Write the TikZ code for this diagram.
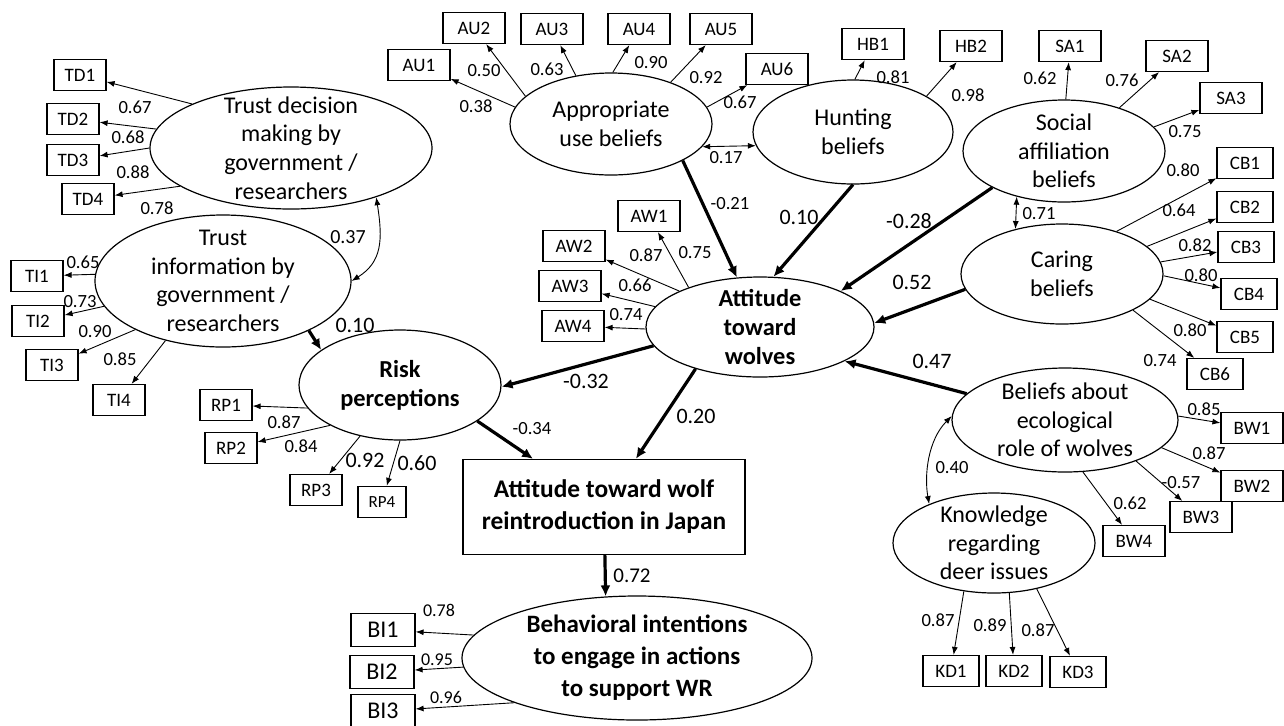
\documentclass[tikz,border=0pt]{standalone}
\usepackage{fontspec}
\setmainfont{Carlito}
\usetikzlibrary{shapes.geometric,arrows.meta}

\begin{document}
\begin{tikzpicture}[x=0.5pt,y=-0.5pt,
  lat/.style={draw,ellipse,line width=0.6pt,inner sep=0pt},
  ltxt/.style={align=center,font=\fontsize{12}{14.3}\selectfont},
  btxt/.style={align=center,font=\bfseries\fontsize{12.2}{14.5}\selectfont},
  ind/.style={draw,line width=0.6pt,inner sep=0pt,minimum width=#1,minimum height=15.5pt,font=\fontsize{9.5}{11}\selectfont},
  ind/.default=30pt,
  ld/.style={line width=0.45pt,-{Latex[length=4pt,width=3pt]}},
  cov/.style={line width=0.45pt,{Latex[length=4pt,width=3pt]}-{Latex[length=4pt,width=3pt]}},
  eff/.style={line width=1.6pt,-{Latex[length=5.5pt,width=5pt]}},
  coef/.style={inner sep=0pt,font=\fontsize{9.3}{11}\selectfont},
  bcoef/.style={inner sep=0pt,font=\fontsize{11}{13}\selectfont}]

\useasboundingbox (0,0) rectangle (1284,725);

% latent variables
\node[lat,minimum width=141pt,minimum height=61pt,label={[ltxt]center:Trust decision\\making by\\government /\\researchers}] (TD) at (291,148) {};
\node[lat,minimum width=128pt,minimum height=66pt,label={[ltxt]center:Trust\\information by\\government /\\researchers}] (TI) at (223,281) {};
\node[lat,minimum width=101pt,minimum height=51pt,label={[ltxt]center:Appropriate\\use beliefs}] (AU) at (611,124) {};
\node[lat,minimum width=100pt,minimum height=52pt,label={[ltxt]center:Hunting\\beliefs}] (HB) at (853,132) {};
\node[lat,minimum width=101pt,minimum height=51pt,label={[ltxt]center:Social\\affiliation\\beliefs}] (SA) at (1064,151) {};
\node[lat,minimum width=101pt,minimum height=50pt,label={[ltxt]center:Caring\\beliefs}] (CB) at (1062,274) {};
\node[lat,minimum width=114pt,minimum height=50pt,label={[btxt]center:Attitude\\toward\\wolves}] (AW) at (760,327) {};
\node[lat,minimum width=101pt,minimum height=55pt,label={[btxt]center:Risk\\perceptions}] (RP) at (400,385) {};
\node[lat,minimum width=113pt,minimum height=52pt,label={[ltxt]center:Beliefs about\\ecological\\role of wolves}] (BW) at (1065,420) {};
\node[lat,minimum width=101pt,minimum height=50pt,label={[ltxt]center:Knowledge\\regarding\\deer issues}] (KD) at (994,543) {};
\node[lat,minimum width=175pt,minimum height=62pt,label={[align=center,font=\bfseries\fontsize{12.5}{16}\selectfont]center:Behavioral intentions\\to engage in actions\\to support WR}] (BI) at (637,658) {};
\node[draw,line width=0.6pt,minimum width=141pt,minimum height=47.5pt,align=center,font=\bfseries\fontsize{12.7}{16}\selectfont] (AWR) at (604,507) {Attitude toward wolf\\reintroduction in Japan};

% indicators
\foreach \n/\x/\y in {TD1/80/75, TD2/73/119, TD3/73/160, TD4/88/199, TI1/37/276, TI2/38/321, TI3/52/365, TI4/119/400, RP1/226/405, RP2/231/448, RP3/316/490}
  \node[ind=26pt] (\n) at (\x,\y) {\n};
\node[ind=24pt,font=\fontsize{8.5}{10}\selectfont] (RP4) at (382,502) {RP4};
\foreach \n/\x/\y in {AU1/419/65, AU2/474/28, AU3/552/29, AU4/639/29, AU5/721/29, AU6/777/69, HB1/873/44, HB2/971/46, SA1/1070/46, SA2/1177/56, SA3/1231/98, AW1/649/216, AW2/574/246, AW3/570/286, AW4/573/326, BW1/1252/428, BW2/1252/486, BW3/1201/517, BW4/1134/541}
  \node[ind=31pt] (\n) at (\x,\y) {\n};
\foreach \n/\x/\y in {CB1/1245/163, CB2/1245/207, CB3/1246/247, CB4/1249/294, CB5/1245/337, CB6/1215/374, KD1/951/671, KD2/1014/671, KD3/1078/672}
  \node[ind=28pt] (\n) at (\x,\y) {\n};
\foreach \n/\x/\y in {BI1/383/630, BI2/382/672, BI3/383/711}
  \node[ind=32pt,minimum height=16.5pt,font=\fontsize{12}{14}\selectfont] (\n) at (\x,\y) {\n};

% loadings
\foreach \a/\n/\v/\x/\y in {156/TD1/0.67/135/107, 172/TD2/0.68/128/137, 180/TD3/0.88/133/172, 199/TD4/0.78/157/208}
  \draw[ld] (TD.\a) -- (\n) node[coef] at (\x,\y) {\v};
\foreach \a/\n/\v/\x/\y in {170/AU1/0.38/476/106, 162/AU2/0.50/484/71, 126/AU3/0.63/547/69, 88/AU4/0.90/651/63, 35/AU5/0.92/706/78, 10/AU6/0.67/740/102}
  \draw[ld] (AU.\a) -- (\n) node[coef] at (\x,\y) {\v};
\foreach \a/\n/\v/\x/\y in {88/HB1/0.81/893/77, 26/HB2/0.98/968/95}
  \draw[ld] (HB.\a) -- (\n) node[coef] at (\x,\y) {\v};
\foreach \a/\n/\v/\x/\y in {88/SA1/0.62/1040/78, 38/SA2/0.76/1122/80, 15/SA3/0.75/1185/132}
  \draw[ld] (SA.\a) -- (\n) node[coef] at (\x,\y) {\v};
\foreach \a/\n/\v/\x/\y in {38/CB1/0.80/1183/170, 18/CB2/0.64/1179/210, 7/CB3/0.82/1195/245, 359/CB4/0.80/1201/275, 344/CB5/0.80/1190/330, 333/CB6/0.74/1160/361}
  \draw[ld] (CB.\a) -- (\n) node[coef] at (\x,\y) {\v};
\foreach \a/\n/\v/\x/\y in {151/AW1/0.75/695/253, 156/AW2/0.87/646/255, 169/AW3/0.66/635/285, 181/AW4/0.74/626/315}
  \draw[ld] (AW.\a) -- (\n) node[coef] at (\x,\y) {\v};
\foreach \a/\n/\v/\x/\y in {177/TI1/0.65/83/262, 192/TI2/0.73/80/302, 209/TI3/0.90/95/332, 226/TI4/0.85/120/359}
  \draw[ld] (TI.\a) -- (\n) node[coef] at (\x,\y) {\v};
\foreach \a/\n/\v/\x/\y in {194/RP1/0.87/284/422, 210/RP2/0.84/301/446}
  \draw[ld] (RP.\a) -- (\n) node[coef] at (\x,\y) {\v};
\draw[ld] (RP.232) -- (RP3) node[bcoef] at (365,460) {0.92};
\draw[ld] (RP.270) -- (RP4) node[bcoef] at (417,463) {0.60};
\foreach \a/\n/\v/\x/\y in {2/BW1/0.85/1204/409, 344/BW2/0.87/1209/453, 330/BW3/-0.57/1181/483, 289/BW4/0.62/1130/503}
  \draw[ld] (BW.\a) -- (\n) node[coef] at (\x,\y) {\v};
\foreach \a/\n/\v/\x/\y in {238/KD1/0.87/938/620, 287/KD2/0.89/990/625, 313/KD3/0.87/1038/630}
  \draw[ld] (KD.\a) -- (\n) node[coef] at (\x,\y) {\v};
\foreach \a/\n/\v/\x/\y in {172/BI1/0.78/439/610, 183/BI2/0.95/437/660, 200/BI3/0.96/446/697}
  \draw[ld] (BI.\a) -- (\n) node[coef,font=\fontsize{9}{10}\selectfont] at (\x,\y) {\v};

% correlations
\draw[cov] (AU.346) -- (HB.188) node[coef] at (726,158) {0.17};
\draw[cov] (SA.224) -- (CB.136) node[coef] at (1039,214) {0.71};
\draw[cov] (TD.330) .. controls (383,240) and (382,262) .. (TI.0) node[coef,font=\fontsize{10}{12}\selectfont] at (348,237) {0.37};
\draw[cov] (BW.178) .. controls (928,440) and (924,475) .. (KD.149) node[coef] at (952,468) {0.40};

% paths
\draw[eff] (AU.333) -- (AW.115) node[coef] at (730,204) {-0.21};
\draw[eff] (HB.270) -- (AW.75) node[bcoef] at (799,217) {0.10};
\draw[eff] (SA.207) -- (AW.24) node[bcoef] at (909,221) {-0.28};
\draw[eff] (CB.189) -- (AW.2) node[bcoef] at (912,282) {0.52};
\draw[eff] (BW.165) -- (AW.338) node[bcoef] at (932,361) {0.47};
\draw[eff] (AW.190) -- (RP.359) node[bcoef] at (586,381) {-0.32};
\draw[eff] (AW.213) -- (AWR) node[bcoef] at (696,416) {0.20};
\draw[eff] (RP.335) -- (AWR) node[coef] at (532,429) {-0.34};
\draw[eff] (TI.330) -- (RP.156) node[bcoef] at (355,325) {0.10};
\draw[eff] (AWR) -- (BI.117) node[coef,font=\fontsize{10.5}{12}\selectfont] at (632,576) {0.72};

\end{tikzpicture}
\end{document}
